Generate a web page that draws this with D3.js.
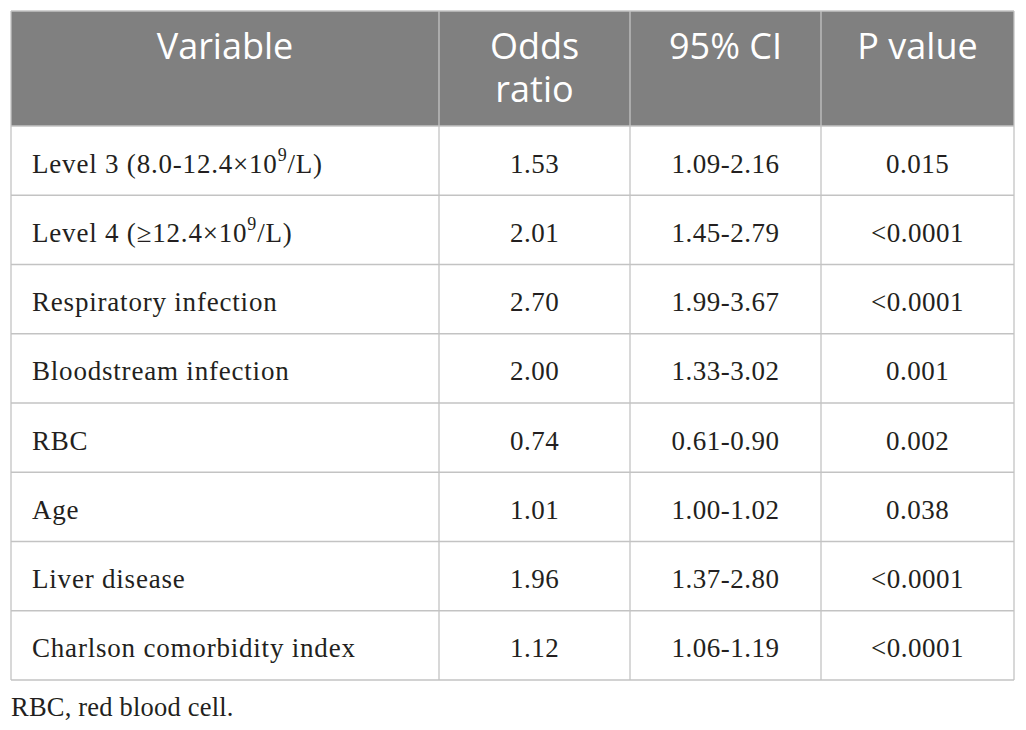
<!DOCTYPE html>
<html><head><meta charset="utf-8">
<script src="https://cdn.jsdelivr.net/npm/d3@7"></script>
<style>html,body{margin:0;padding:0;background:#fff;}</style>
</head><body>
<svg id="c" width="1026" height="730"></svg>
<script>
const headers = [["Variable"], ["Odds", "ratio"], ["95% CI"], ["P value"]];
const variables = [
  ["Level 3 (8.0-12.4×10", "9", "/L)"],
  ["Level 4 (≥12.4×10", "9", "/L)"],
  ["Respiratory infection"],
  ["Bloodstream infection"],
  ["RBC"],
  ["Age"],
  ["Liver disease"],
  ["Charlson comorbidity index"]
];
const oddsRatios = ["1.53", "2.01", "2.70", "2.00", "0.74", "1.01", "1.96", "1.12"];
const ciValues = ["1.09-2.16", "1.45-2.79", "1.99-3.67", "1.33-3.02", "0.61-0.90", "1.00-1.02", "1.37-2.80", "1.06-1.19"];
const pValues = ["0.015", "<0.0001", "<0.0001", "0.001", "0.002", "0.038", "<0.0001", "<0.0001"];
const footnote = "RBC, red blood cell.";

const svg = d3.select("#c");
const tLeft = 11, tRight = 1014, tTop = 11, headH = 115, bodyBottom = 680;
const colEdges = [tLeft, 439, 630, 821, tRight];
const colX = i => colEdges[i];
const y = d3.scaleBand().domain(d3.range(variables.length)).range([tTop + headH, bodyBottom]);

const serif = "'Liberation Serif', 'Times New Roman', serif";
const sans = "'Open Sans', 'Noto Sans', sans-serif";
const border = "#c3c3c3";
const ink = "#231f20";

svg.append("rect").attr("x", tLeft).attr("y", tTop).attr("width", tRight - tLeft).attr("height", headH).attr("fill", "#808080");

svg.selectAll("line.row").data(d3.range(variables.length + 1)).join("line")
  .attr("x1", tLeft).attr("x2", tRight)
  .attr("y1", i => i < variables.length ? y(i) : bodyBottom)
  .attr("y2", i => i < variables.length ? y(i) : bodyBottom)
  .attr("stroke", border).attr("stroke-width", 1.3);
svg.selectAll("line.col").data(colEdges).join("line")
  .attr("x1", d => d).attr("x2", d => d)
  .attr("y1", tTop).attr("y2", bodyBottom)
  .attr("stroke", border).attr("stroke-width", 1.3);
svg.append("line").attr("x1", tLeft).attr("x2", tRight).attr("y1", tTop).attr("y2", tTop).attr("stroke", border).attr("stroke-width", 1.3);

headers.forEach((lines, i) => {
  const t = svg.append("text")
    .attr("font-family", sans).attr("font-size", 36).attr("fill", "#fff")
    .attr("text-anchor", "middle");
  lines.forEach((ln, k) => {
    t.append("tspan").attr("x", (colX(i) + colX(i + 1)) / 2).attr("y", 59 + k * 43).text(ln);
  });
});

const cols = [null, oddsRatios, ciValues, pValues];
variables.forEach((v, r) => {
  const base = y(r) + y.bandwidth() / 2 + 12;
  const t = svg.append("text").attr("x", 32).attr("y", base)
    .attr("font-family", serif).attr("font-size", 27).attr("letter-spacing", 0.8).attr("fill", ink);
  t.append("tspan").text(v[0]);
  if (v.length > 1) {
    t.append("tspan").attr("font-size", 18).attr("dy", -12).text(v[1]);
    t.append("tspan").attr("dy", 12).text(v[2]);
  }
  [1, 2, 3].forEach(c => {
    svg.append("text").attr("x", (colX(c) + colX(c + 1)) / 2).attr("y", base)
      .attr("text-anchor", "middle")
      .attr("font-family", serif).attr("font-size", 27).attr("letter-spacing", 0.5).attr("fill", ink)
      .text(cols[c][r]);
  });
});

svg.append("text").attr("x", 11).attr("y", 716)
  .attr("font-family", serif).attr("font-size", 26.5).attr("letter-spacing", 0.2).attr("fill", ink)
  .text(footnote);
</script>
</body></html>
